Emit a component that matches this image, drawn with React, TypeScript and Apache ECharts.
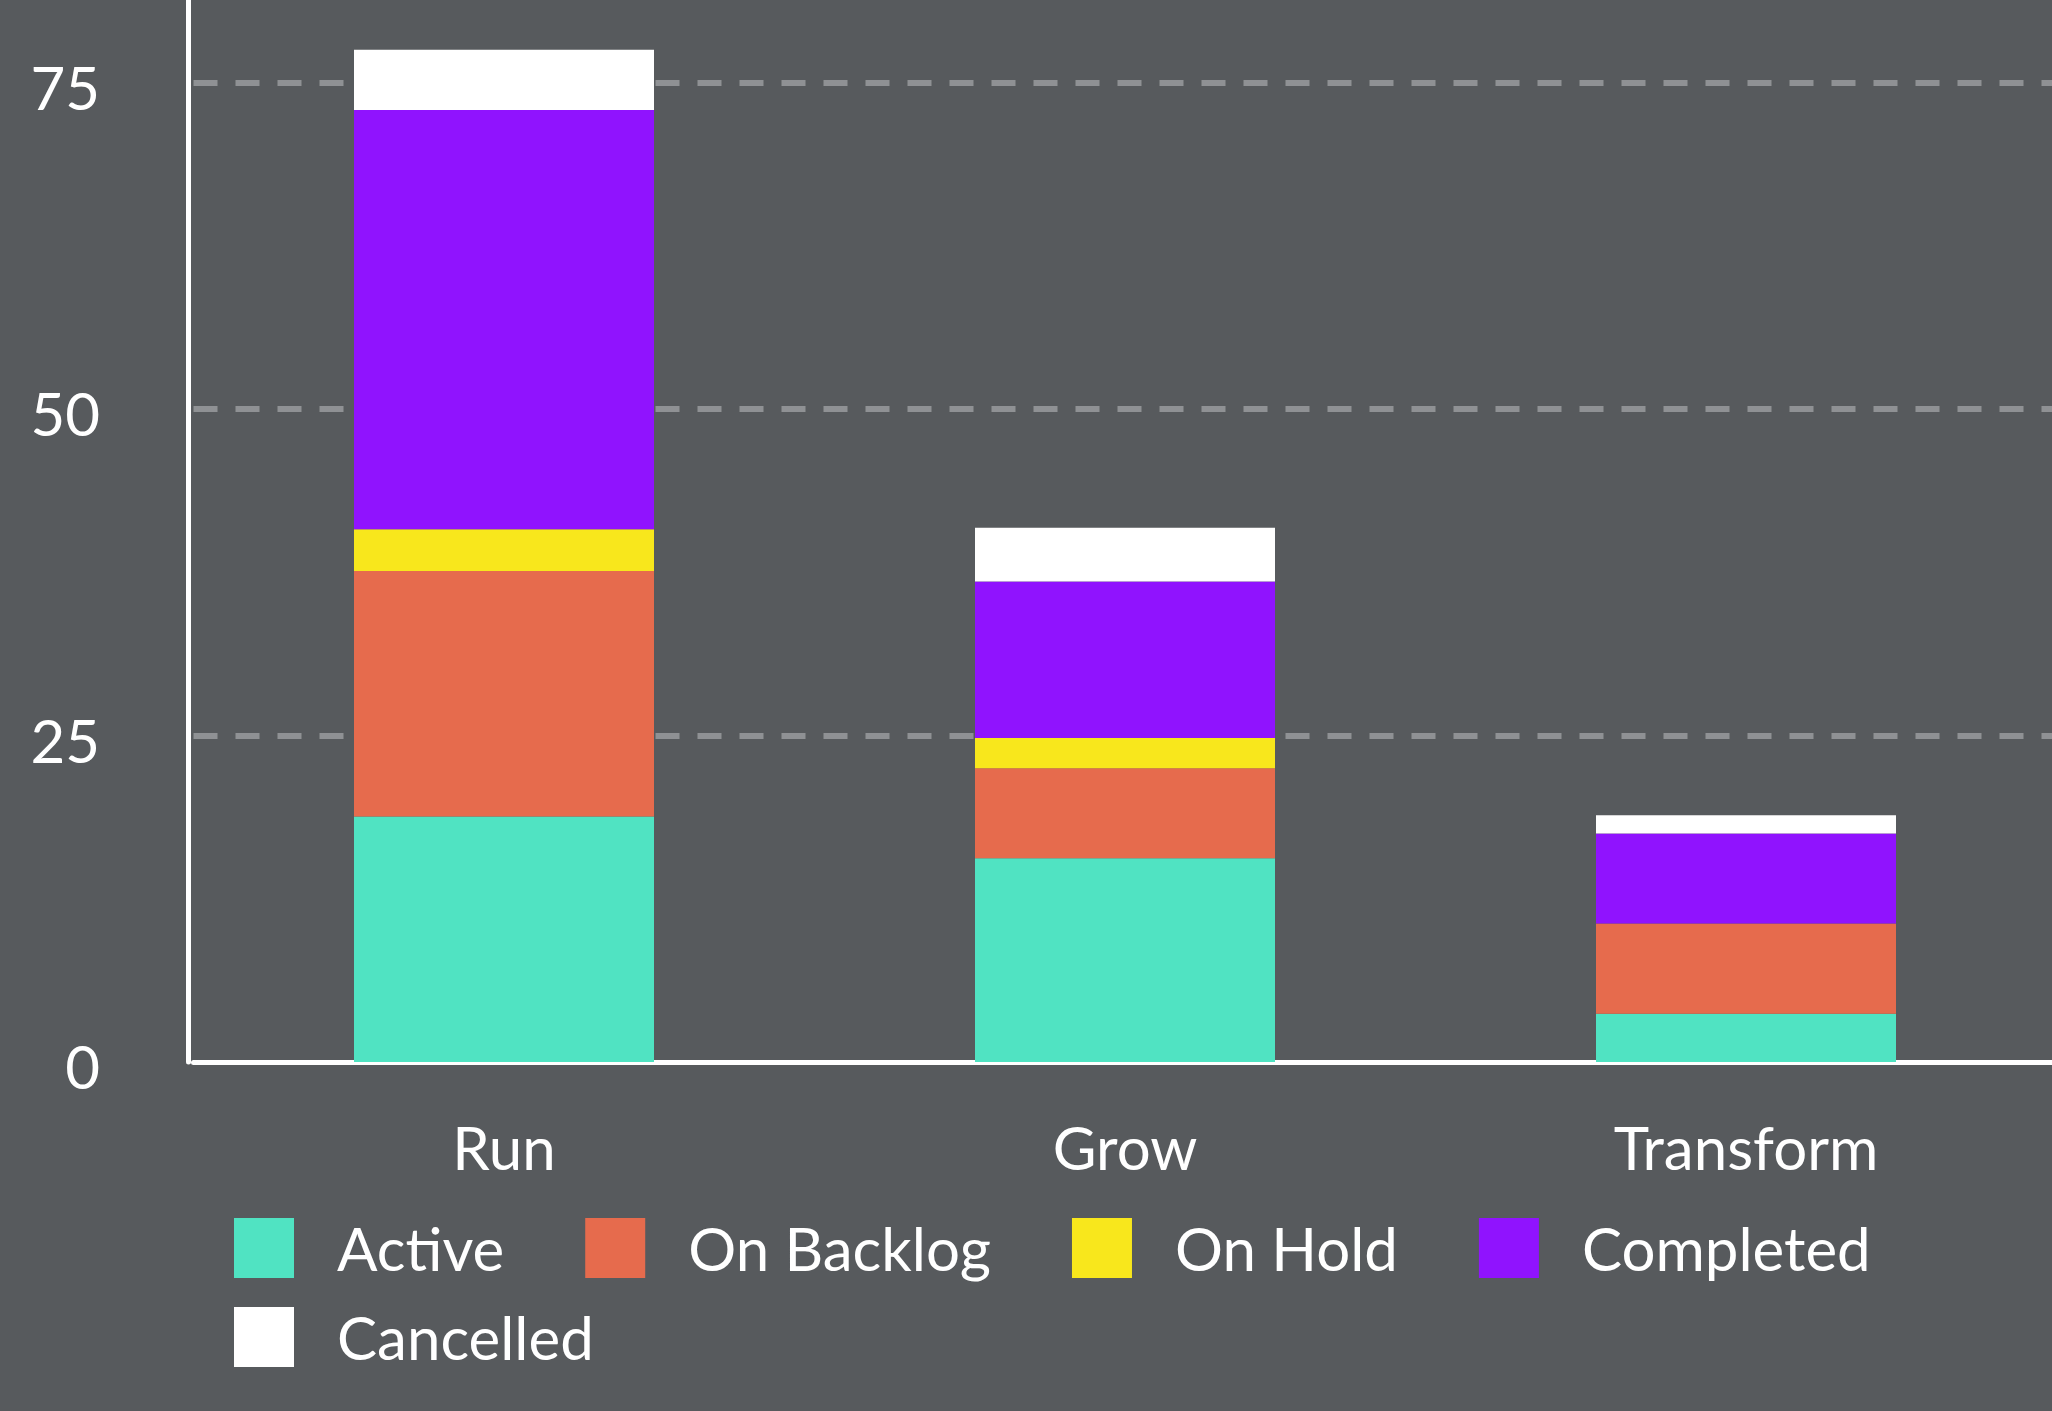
import React, { useEffect, useRef } from 'react';
import * as echarts from 'echarts';

const categories = ['Run', 'Grow', 'Transform'];
const seriesNames = ['Active', 'On Backlog', 'On Hold', 'Completed', 'Cancelled'];
const activeValues = [18.8, 15.6, 3.7];
const backlogValues = [18.8, 6.9, 6.9];
const holdValues = [3.2, 2.3, 0];
const completedValues = [32.1, 12.0, 6.9];
const cancelledValues = [4.6, 4.1, 1.4];
const seriesColors = ['#50E3C2', '#E66B4D', '#F8E71C', '#9013FE', '#FFFFFF'];
const yMin = 0;
const yMax = 100;
const yInterval = 25;

const allValues = [activeValues, backlogValues, holdValues, completedValues, cancelledValues];

// The chart canvas is taller than the page and shifted up so the top of the axis is cut off
const SHIFT = 244;
const W = 2062;
const H = 1411 + SHIFT;

export default function App() {
  const ref = useRef<HTMLDivElement>(null);

  useEffect(() => {
    if (!ref.current) return;
    const chart = echarts.init(ref.current, undefined, { renderer: 'svg' });
    const legendText = {
      color: '#FFFFFF',
      fontSize: 60,
      fontFamily: 'Lato',
      padding: [0, 0, 0, 38],
    };
    chart.setOption({
      animation: false,
      backgroundColor: '#575A5D',
      textStyle: { fontFamily: 'Lato' },
      grid: {
        left: 193.5,
        right: W - 2056.5,
        top: 0,
        bottom: H - (1062 + SHIFT),
        containLabel: false,
        outerBoundsMode: 'none',
      },
      xAxis: {
        type: 'category',
        data: categories,
        offset: 2.5,
        axisLine: { show: true, lineStyle: { color: '#FFFFFF', width: 5 } },
        axisTick: { show: false },
        axisLabel: { color: '#FFFFFF', fontSize: 60, fontFamily: 'Lato', margin: 52 },
        splitLine: { show: false },
      },
      yAxis: {
        type: 'value',
        min: yMin,
        max: yMax,
        interval: yInterval,
        offset: 5,
        axisLine: { show: true, lineStyle: { color: '#FFFFFF', width: 5 } },
        axisTick: { show: false },
        axisLabel: {
          color: '#FFFFFF',
          fontSize: 60,
          fontFamily: 'Lato',
          margin: 88.5,
          verticalAlign: 'top',
          lineHeight: 8,
          showMaxLabel: false,
        },
        splitLine: {
          show: true,
          showMinLine: false,
          lineStyle: { color: '#8F9194', width: 6, type: [24, 18] },
        },
      },
      legend: [
        {
          data: seriesNames.slice(0, 4),
          left: 229,
          top: 1213 + SHIFT,
          padding: 5,
          orient: 'horizontal',
          icon: 'rect',
          itemWidth: 60,
          itemHeight: 60,
          itemGap: 81,
          selectedMode: false,
          textStyle: legendText,
        },
        {
          data: seriesNames.slice(4),
          left: 229,
          top: 1302 + SHIFT,
          padding: 5,
          orient: 'horizontal',
          icon: 'rect',
          itemWidth: 60,
          itemHeight: 60,
          itemGap: 81,
          selectedMode: false,
          textStyle: legendText,
        },
      ],
      series: seriesNames.map((name, i) => ({
        name,
        type: 'bar',
        stack: 'total',
        barWidth: 300,
        data: allValues[i],
        itemStyle: { color: seriesColors[i] },
        emphasis: { disabled: true },
      })),
    });
    return () => chart.dispose();
  }, []);

  return (
    <div
      ref={ref}
      style={{ position: 'fixed', left: 0, top: -SHIFT, width: W, height: H }}
    />
  );
}
